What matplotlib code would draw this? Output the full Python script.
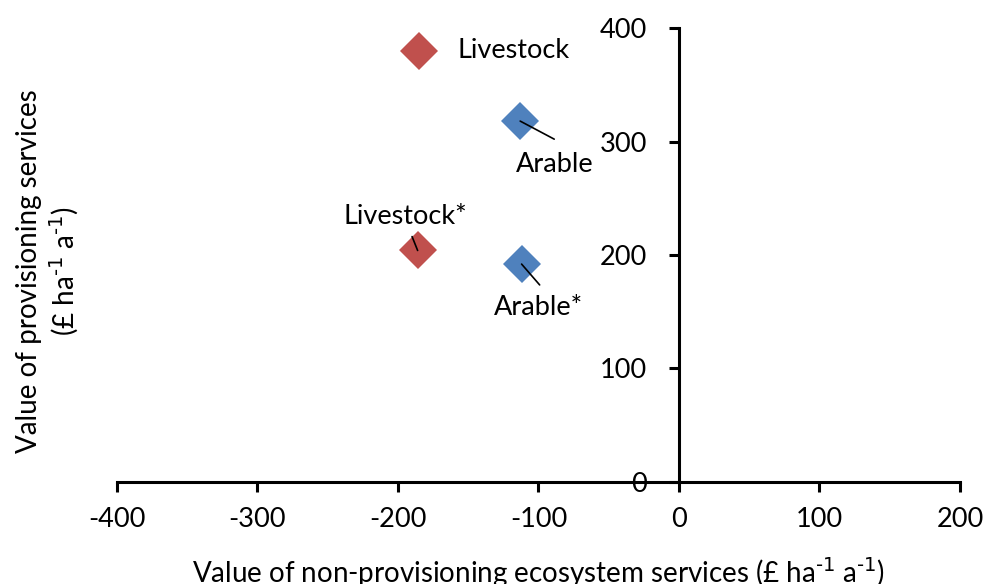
import matplotlib.pyplot as plt

# values
names = ['Livestock', 'Arable', 'Livestock*', 'Arable*']
x_vals = [-185, -113, -186, -112]
y_vals = [380, 318, 204, 192]
colors = ['#C0504D', '#4F81BD', '#C0504D', '#4F81BD']

x_ticks = [-400, -300, -200, -100, 0, 100, 200]
y_ticks = [0, 100, 200, 300, 400]

plt.rcParams['font.family'] = ['Lato', 'DejaVu Sans']
plt.rcParams['mathtext.default'] = 'regular'
plt.rcParams['axes.unicode_minus'] = False

FS = 19.5
UNIT = r'(£ ha$^{\text{-1}}$ a$^{\text{-1}}$)'

fig = plt.figure(figsize=(9.87, 5.84), dpi=100)
ax = fig.add_axes([0.1185, 0.1747, 0.8541, 0.7773])

for x, y, c in zip(x_vals, y_vals, colors):
    ax.plot(x, y, 'D', color=c, markersize=19, markeredgewidth=0, zorder=3)

# label offsets and leader line ends, in points from the marker
label_off = [(68, 0), (25, -31), (-9, 24.5), (12, -31)]
leader_off = [None, (24.5, -13), (-4, 10), (13, -15)]
for name, x, y, off, lead in zip(names, x_vals, y_vals, label_off, leader_off):
    ax.annotate(name, xy=(x, y), xytext=off, textcoords='offset points',
                ha='center', va='center', fontsize=FS, zorder=4)
    if lead is not None:
        ax.annotate('', xy=(x, y), xytext=lead, textcoords='offset points',
                    arrowprops=dict(arrowstyle='-', color='black', lw=1.2,
                                    shrinkA=0, shrinkB=0), zorder=4)

ax.set_xlim(-400, 200)
ax.set_ylim(0, 400)
ax.set_xticks(x_ticks)
ax.set_yticks(y_ticks)

ax.spines['left'].set_position(('data', 0))
ax.spines['bottom'].set_position(('data', 0))
ax.spines['top'].set_visible(False)
ax.spines['right'].set_visible(False)
for s in ['left', 'bottom']:
    ax.spines[s].set_linewidth(2.2)
    ax.spines[s].set_zorder(2)

ax.tick_params(axis='both', direction='out', length=7, width=2.2,
               labelsize=FS)
ax.tick_params(axis='y', pad=16)
ax.tick_params(axis='x', pad=11)

ax.set_xlabel('Value of non-provisioning ecosystem services ' + UNIT,
              fontsize=FS + 0.5, labelpad=17)
fig.text(0.049, 0.535, 'Value of provisioning services\n' + UNIT,
         rotation=90, ha='center', va='center', fontsize=FS + 0.5,
         multialignment='center', linespacing=1.2)

fig.savefig('out.png', dpi=100)
